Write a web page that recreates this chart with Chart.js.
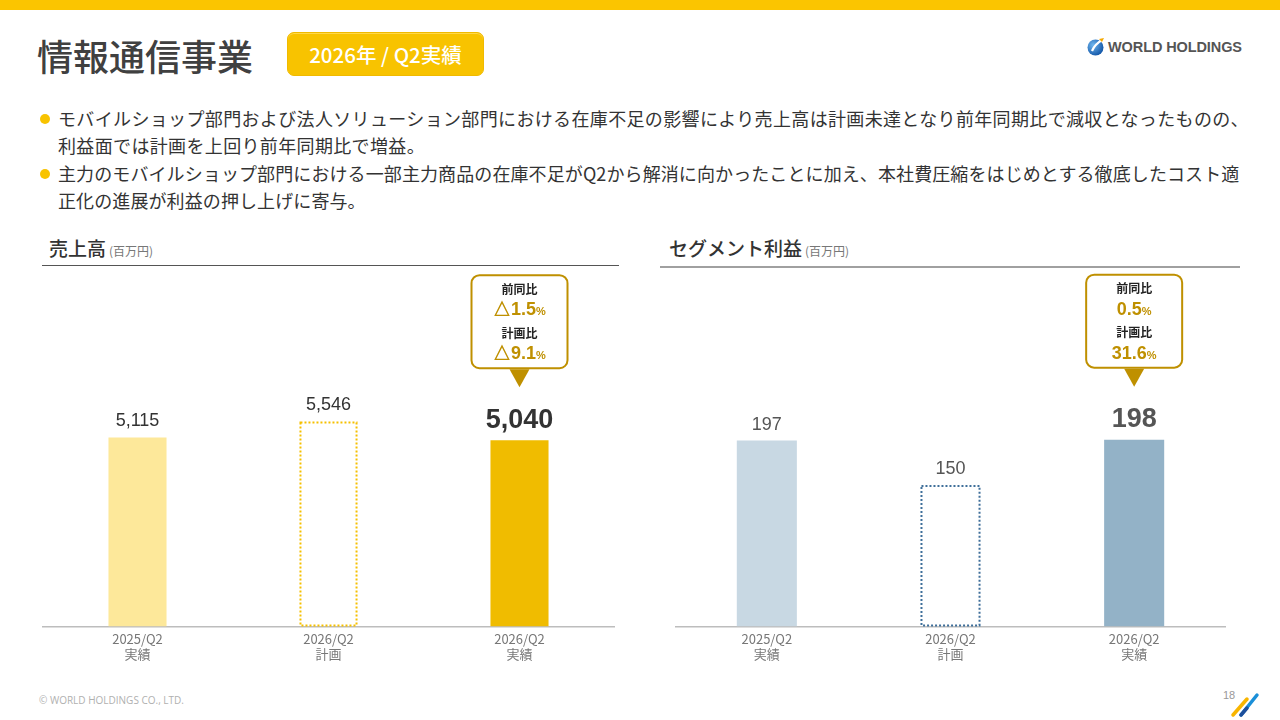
<!DOCTYPE html>
<html lang="ja">
<head>
<meta charset="utf-8">
<script src="https://cdn.jsdelivr.net/npm/chart.js@4.4.1/dist/chart.umd.min.js"></script>
<style>
  html, body { margin: 0; padding: 0; }
  body { width: 1280px; height: 720px; position: relative; background: #fff; overflow: hidden;
         font-family: "Noto Sans CJK JP", "Noto Sans", sans-serif; color: #333; }
  .topbar { position: absolute; left: 0; top: 0; width: 1280px; height: 10px; background: #fbc500; }
  .title { position: absolute; left: 37px; top: 31px; font-size: 36px; font-weight: 500; color: #404040; line-height: 48px; }
  .badge { position: absolute; left: 287px; top: 32px; width: 195px; height: 42px; background: #f8c300;
           border: 1px solid #f0ba00; border-radius: 7px; color: #fff; font-size: 20.5px; font-weight: 500; line-height: 42px;
           text-align: center; box-shadow: inset 0 1px 0 #ffd84a; }
  .logo { position: absolute; left: 1087px; top: 37px; display: flex; align-items: center; }
  .logo span { font-family: "Liberation Sans", Arial, sans-serif; font-weight: bold; font-size: 14.5px; color: #555; margin-left: 3px; letter-spacing: -0.1px; }
  .bullets { position: absolute; left: 38px; top: 105px; font-size: 18px; line-height: 27px; color: #333; white-space: nowrap; }
  .bullets p { margin: 0 0 1px 0; padding-left: 20px; position: relative; }
  .bullets p.a { letter-spacing: 0.35px; }
  .bullets p.b { letter-spacing: 0.1px; }
  .bullets p::before { content: ""; position: absolute; left: 2px; top: 9px; width: 10px; height: 10px; border-radius: 50%; background: #f8c300; }
  .head { position: absolute; top: 234px; font-size: 19px; font-weight: 500; color: #333; line-height: 28px; }
  .head small { font-size: 12px; color: #777; font-weight: normal; margin-left: 3px; }
  .rule { position: absolute; height: 0; }
  .chartbox { position: absolute; }
  .footer { position: absolute; left: 39px; top: 693px; font-size: 10px; color: #b0b0b0; font-family: "Open Sans", sans-serif; }
  .page { position: absolute; left: 1223px; top: 689px; font-size: 11px; color: #999; font-family: "Liberation Sans", Arial, sans-serif; }
  .slash { position: absolute; left: 1230px; top: 690px; }
</style>
</head>
<body>
<div class="topbar"></div>
<div class="title">情報通信事業</div>
<div class="badge">2026年 / Q2実績</div>
<div class="logo">
  <svg width="18" height="19" viewBox="0 0 18 19">
    <defs>
      <radialGradient id="g" cx="35%" cy="35%" r="70%">
        <stop offset="0" stop-color="#6fb6ee"/>
        <stop offset="1" stop-color="#1256a8"/>
      </radialGradient>
    </defs>
    <circle cx="8.5" cy="10.5" r="8" fill="url(#g)"/>
    <path d="M5 14 C7 9 10 6 15 3" stroke="#fff" stroke-width="2.2" fill="none"/>
    <path d="M12 2 L17 1 L15 5 Z" fill="#f5a800"/>
  </svg>
  <span>WORLD HOLDINGS</span>
</div>

<div class="bullets">
  <p class="a">モバイルショップ部門および法人ソリューション部門における在庫不足の影響により売上高は計画未達となり前年同期比で減収となったものの、<br>利益面では計画を上回り前年同期比で増益。</p>
  <p class="b">主力のモバイルショップ部門における一部主力商品の在庫不足がQ2から解消に向かったことに加え、本社費圧縮をはじめとする徹底したコスト適<br>正化の進展が利益の押し上げに寄与。</p>
</div>

<div class="head" style="left:49px;">売上高<small>(百万円)</small></div>
<div class="rule" style="left:42px; top:265px; width:577px; border-top:1.5px solid #555;"></div>
<div class="head" style="left:669px;">セグメント利益<small>(百万円)</small></div>
<div class="rule" style="left:660px; top:266px; width:580px; border-top:2px solid #a0a0a0;"></div>

<div class="chartbox" style="left:42px; top:257px; width:573px; height:414px;"><canvas id="salesChart"></canvas></div>
<div class="chartbox" style="left:675px; top:268px; width:551px; height:403px;"><canvas id="profitChart"></canvas></div>

<div class="footer">© WORLD HOLDINGS CO., LTD.</div>
<div class="page">18</div>
<svg class="slash" width="30" height="28" viewBox="0 0 30 28">
  <line x1="3" y1="25" x2="17" y2="9" stroke="#f8b500" stroke-width="3.5" stroke-linecap="round"/>
  <line x1="11" y1="25" x2="27" y2="5" stroke="#1a8fd8" stroke-width="3.5" stroke-linecap="round"/>
  <line x1="11" y1="25" x2="17" y2="18" stroke="#1d4f9c" stroke-width="3.5" stroke-linecap="round"/>
</svg>

<script>
// Data
const periodLabels = [['2025/Q2', '実績'], ['2026/Q2', '計画'], ['2026/Q2', '実績']];
const salesValues = [5115, 5546, 5040];
const profitValues = [197, 150, 198];
const salesCallout = [['前同比', '△1.5'], ['計画比', '△9.1']];
const profitCallout = [['前同比', '0.5'], ['計画比', '31.6']];

Chart.defaults.font.family = '"Noto Sans CJK JP", "Noto Sans", sans-serif';
Chart.defaults.animation = false;

const numFont = '"Liberation Sans", Arial, sans-serif';

// value labels, dotted plan bar, callout box
const barDeco = {
    id: 'barDeco',
    afterDatasetsDraw(chart, args, opts) {
        const ctx = chart.ctx;
        const meta = chart.getDatasetMeta(0);
        const values = chart.data.datasets[0].data;

        meta.data.forEach((bar, i) => {
            if (i === opts.planIndex) {
                ctx.save();
                ctx.strokeStyle = opts.planColor;
                ctx.lineWidth = 2;
                ctx.setLineDash([2, 2]);
                ctx.strokeRect(bar.x - bar.width / 2 + 1, bar.y + 1, bar.width - 2, bar.base - bar.y - 2);
                ctx.restore();
            }
            const big = i === opts.highlightIndex;
            ctx.save();
            ctx.font = (big ? 'bold 27px ' : '18px ') + numFont;
            ctx.fillStyle = opts.labelColor;
            ctx.textAlign = 'center';
            ctx.textBaseline = 'middle';
            ctx.fillText(values[i].toLocaleString('en-US'), bar.x, bar.y - (big ? 20 : 16));
            ctx.restore();
        });

        // callout over highlighted bar
        const hb = meta.data[opts.highlightIndex];
        const w = 96, h = 93, r = 8;
        const left = hb.x - w / 2;
        const top = hb.y - 165;
        const bottom = top + h;
        const gold = '#bf9000';

        ctx.save();
        ctx.beginPath();
        ctx.roundRect(left, top, w, h, r);
        ctx.fillStyle = '#fff';
        ctx.fill();
        ctx.strokeStyle = gold;
        ctx.lineWidth = 2;
        ctx.stroke();

        ctx.beginPath();
        ctx.moveTo(hb.x - 10, bottom + 1);
        ctx.lineTo(hb.x + 10, bottom + 1);
        ctx.lineTo(hb.x, bottom + 19);
        ctx.closePath();
        ctx.fillStyle = gold;
        ctx.fill();

        ctx.textBaseline = 'middle';
        opts.callout.forEach((row, k) => {
            const yT = top + 14 + k * 44;
            const yV = top + 35 + k * 44;
            ctx.textAlign = 'center';
            ctx.font = 'bold 12px "Noto Sans CJK JP", sans-serif';
            ctx.fillStyle = '#222';
            ctx.fillText(row[0], hb.x, yT);

            ctx.font = 'bold 18px ' + numFont;
            const wNum = ctx.measureText(row[1]).width;
            ctx.font = 'bold 11px ' + numFont;
            const wPct = ctx.measureText('%').width;
            const x0 = hb.x - (wNum + wPct) / 2;
            ctx.textAlign = 'left';
            ctx.fillStyle = gold;
            ctx.font = 'bold 18px ' + numFont;
            ctx.fillText(row[1], x0, yV);
            ctx.font = 'bold 11px ' + numFont;
            ctx.fillText('%', x0 + wNum, yV + 2);
        });
        ctx.restore();
    }
};

function makeChart(id, values, colors, yMax, barPct, deco) {
    return new Chart(document.getElementById(id), {
        type: 'bar',
        data: {
            labels: periodLabels,
            datasets: [{
                data: values,
                backgroundColor: colors,
                borderWidth: 0,
                barPercentage: 1,
                categoryPercentage: barPct
            }]
        },
        plugins: [barDeco],
        options: {
            responsive: true,
            maintainAspectRatio: false,
            layout: { padding: { top: 0, bottom: 4, left: 0, right: 0 } },
            scales: {
                x: {
                    grid: { display: false, drawTicks: false },
                    border: { display: true, color: '#bdbdbd', width: 1.5 },
                    ticks: { color: '#777', font: { size: 13, lineHeight: 1.1 }, padding: 6 }
                },
                y: { display: false, min: 0, max: yMax }
            },
            plugins: {
                legend: { display: false },
                tooltip: { enabled: false },
                barDeco: deco
            }
        }
    });
}

makeChart('salesChart', salesValues, ['#fde89a', 'rgba(0,0,0,0)', '#f0bc00'], 10000, 0.304, {
    planIndex: 1, highlightIndex: 2, planColor: '#f5c000', labelColor: '#333', callout: salesCallout
});

makeChart('profitChart', profitValues, ['#c8d8e3', 'rgba(0,0,0,0)', '#93b2c7'], 380, 0.327, {
    planIndex: 1, highlightIndex: 2, planColor: '#3f6f9a', labelColor: '#555', callout: profitCallout
});
</script>
</body>
</html>
